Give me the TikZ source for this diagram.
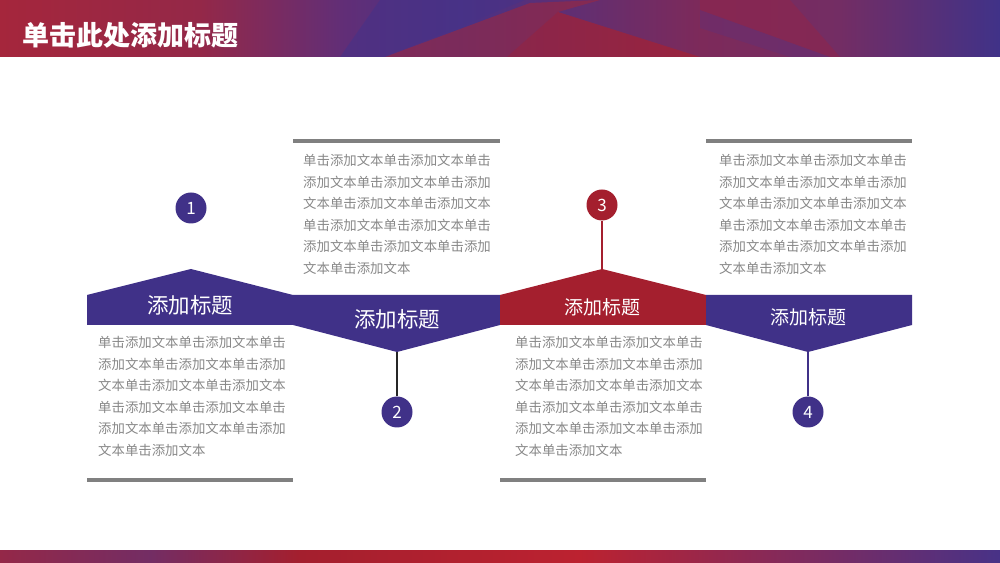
\documentclass[tikz,border=0pt]{standalone}
\usepackage{fontspec}
\setmainfont{Noto Sans CJK SC}
\usetikzlibrary{calc}

\definecolor{tlpurple}{RGB}{64,49,136}
\definecolor{tlred}{RGB}{164,31,46}
\definecolor{bodygray}{RGB}{135,135,135}
\definecolor{bargray}{RGB}{128,128,128}
\definecolor{hdrred}{RGB}{165,38,60}
\definecolor{hdrwine}{RGB}{148,40,72}
\definecolor{hdrviolet}{RGB}{98,46,118}
\definecolor{hdrblue}{RGB}{72,50,135}
\definecolor{hdrmag}{RGB}{125,42,90}
\definecolor{hdrplum}{RGB}{115,45,100}
\definecolor{hdrend}{RGB}{64,50,136}
\definecolor{hdrrose}{RGB}{150,40,68}
\definecolor{hdrfacet}{RGB}{168,33,48}
\definecolor{hdrglow}{RGB}{140,38,78}
\definecolor{hdrdusk}{RGB}{95,48,122}
\definecolor{ftred}{RGB}{188,34,48}

\newcommand{\bodytext}{单击添加文本单击添加文本单击\\添加文本单击添加文本单击添加\\文本单击添加文本单击添加文本\\单击添加文本单击添加文本单击\\添加文本单击添加文本单击添加\\文本单击添加文本}

\begin{document}
\begin{tikzpicture}[line join=bevel]
 \tikzstyle{stepdot}=[circle,fill=tlpurple,minimum size=31bp,inner sep=0pt,text=white,font=\fontsize{17bp}{17bp}\selectfont]
 \tikzstyle{body}=[anchor=north west,inner sep=0pt,align=left,text=bodygray,font=\fontsize{13.4bp}{21.5bp}\selectfont]
 \tikzstyle{bar}=[draw=bargray,line width=4bp]
 \tikzstyle{heading}=[text=white,inner sep=0pt]
 \tikzstyle{facet}=[fill opacity=0.65]
 \useasboundingbox (0bp,0bp) rectangle (1000bp,563bp);

 % header band
 \shade[left color=hdrred,right color=hdrwine] (0bp,506bp) rectangle (200.5bp,563bp);
 \shade[left color=hdrwine,right color=hdrviolet] (200bp,506bp) rectangle (340.5bp,563bp);
 \shade[left color=hdrviolet,right color=hdrblue] (340bp,506bp) rectangle (460.5bp,563bp);
 \shade[left color=hdrblue,right color=hdrmag] (460bp,506bp) rectangle (700.5bp,563bp);
 \shade[left color=hdrmag,right color=hdrplum] (700bp,506bp) rectangle (840.5bp,563bp);
 \shade[left color=hdrplum,right color=hdrend] (840bp,506bp) rectangle (1000bp,563bp);
 \fill[hdrblue,facet] (380bp,563bp) -- (525bp,563bp) -- (385bp,506bp) -- (340bp,506bp) -- cycle;
 \fill[hdrrose,facet] (385bp,506bp) -- (530bp,560bp) -- (600bp,563bp) -- (558bp,551bp) -- (507bp,506bp) -- cycle;
 \fill[hdrfacet,facet] (507bp,506bp) -- (558bp,551bp) -- (700bp,506bp) -- cycle;
 \fill[hdrglow,facet] (700bp,563bp) -- (790bp,563bp) -- (840bp,506bp) -- (830bp,506bp) -- (700bp,553bp) -- cycle;
 \fill[hdrdusk,fill opacity=0.4] (700bp,553bp) -- (830bp,506bp) -- (790bp,506bp) -- (700bp,535bp) -- cycle;
 \node (title) at (22bp,528bp) [anchor=west,heading,font=\fontsize{27bp}{27bp}\selectfont\bfseries] {单击此处添加标题};

 % footer band
 \shade[left color=hdrwine,right color=hdrplum] (0bp,0bp) rectangle (150.5bp,12bp);
 \shade[left color=hdrplum,right color=tlred] (150bp,0bp) rectangle (300.5bp,12bp);
 \shade[left color=tlred,right color=ftred] (300bp,0bp) rectangle (580.5bp,12bp);
 \shade[left color=ftred,right color=hdrblue] (580bp,0bp) rectangle (1000bp,12bp);

 % banner pieces
 \fill[tlpurple] (87bp,238bp) -- (87bp,268bp) -- (191bp,294bp) -- (293bp,268bp) -- (293bp,238bp) -- cycle;
 \fill[tlpurple] (293bp,268bp) -- (500bp,268bp) -- (500bp,238bp) -- (397bp,211bp) -- (293bp,238bp) -- cycle;
 \fill[tlred] (500bp,238bp) -- (500bp,268bp) -- (602bp,294bp) -- (706bp,268bp) -- (706bp,238bp) -- cycle;
 \fill[tlpurple] (706bp,268bp) -- (912bp,268bp) -- (912bp,238bp) -- (808bp,211bp) -- (706bp,238bp) -- cycle;
 \coordinate (p2) at (397bp,211bp);
 \coordinate (p3) at (602bp,294bp);
 \coordinate (p4) at (808bp,211bp);

 \node (h1) at (190bp,258bp) [heading,font=\fontsize{21.5bp}{21.5bp}\selectfont] {添加标题};
 \node (h2) at (397bp,244bp) [heading,font=\fontsize{21.5bp}{21.5bp}\selectfont] {添加标题};
 \node (h3) at (602bp,256bp) [heading,font=\fontsize{19bp}{19bp}\selectfont] {添加标题};
 \node (h4) at (808bp,246bp) [heading,font=\fontsize{19bp}{19bp}\selectfont] {添加标题};

 % numbered dots
 \node (n1) at (191bp,355bp) [stepdot] {1};
 \node (n2) at (397bp,151bp) [stepdot] {2};
 \node (n3) at (602bp,358bp) [stepdot,fill=tlred] {3};
 \node (n4) at (808bp,151bp) [stepdot] {4};
 \draw [line width=2bp,black!85] (n2) -- (p2);
 \draw [line width=2bp,tlred] (n3) -- (p3);
 \draw [line width=2bp,tlpurple] (n4) -- (p4);

 % text blocks and rules
 \draw [bar] (293bp,422bp) -- (500bp,422bp);
 \draw [bar] (706bp,422bp) -- (912bp,422bp);
 \draw [bar] (87bp,83bp) -- (293bp,83bp);
 \draw [bar] (500bp,83bp) -- (706bp,83bp);
 \node (b1) at (98bp,227bp) [body] {\bodytext};
 \node (b2) at (303bp,409bp) [body] {\bodytext};
 \node (b3) at (515bp,227bp) [body] {\bodytext};
 \node (b4) at (719bp,409bp) [body] {\bodytext};
\end{tikzpicture}
\end{document}
